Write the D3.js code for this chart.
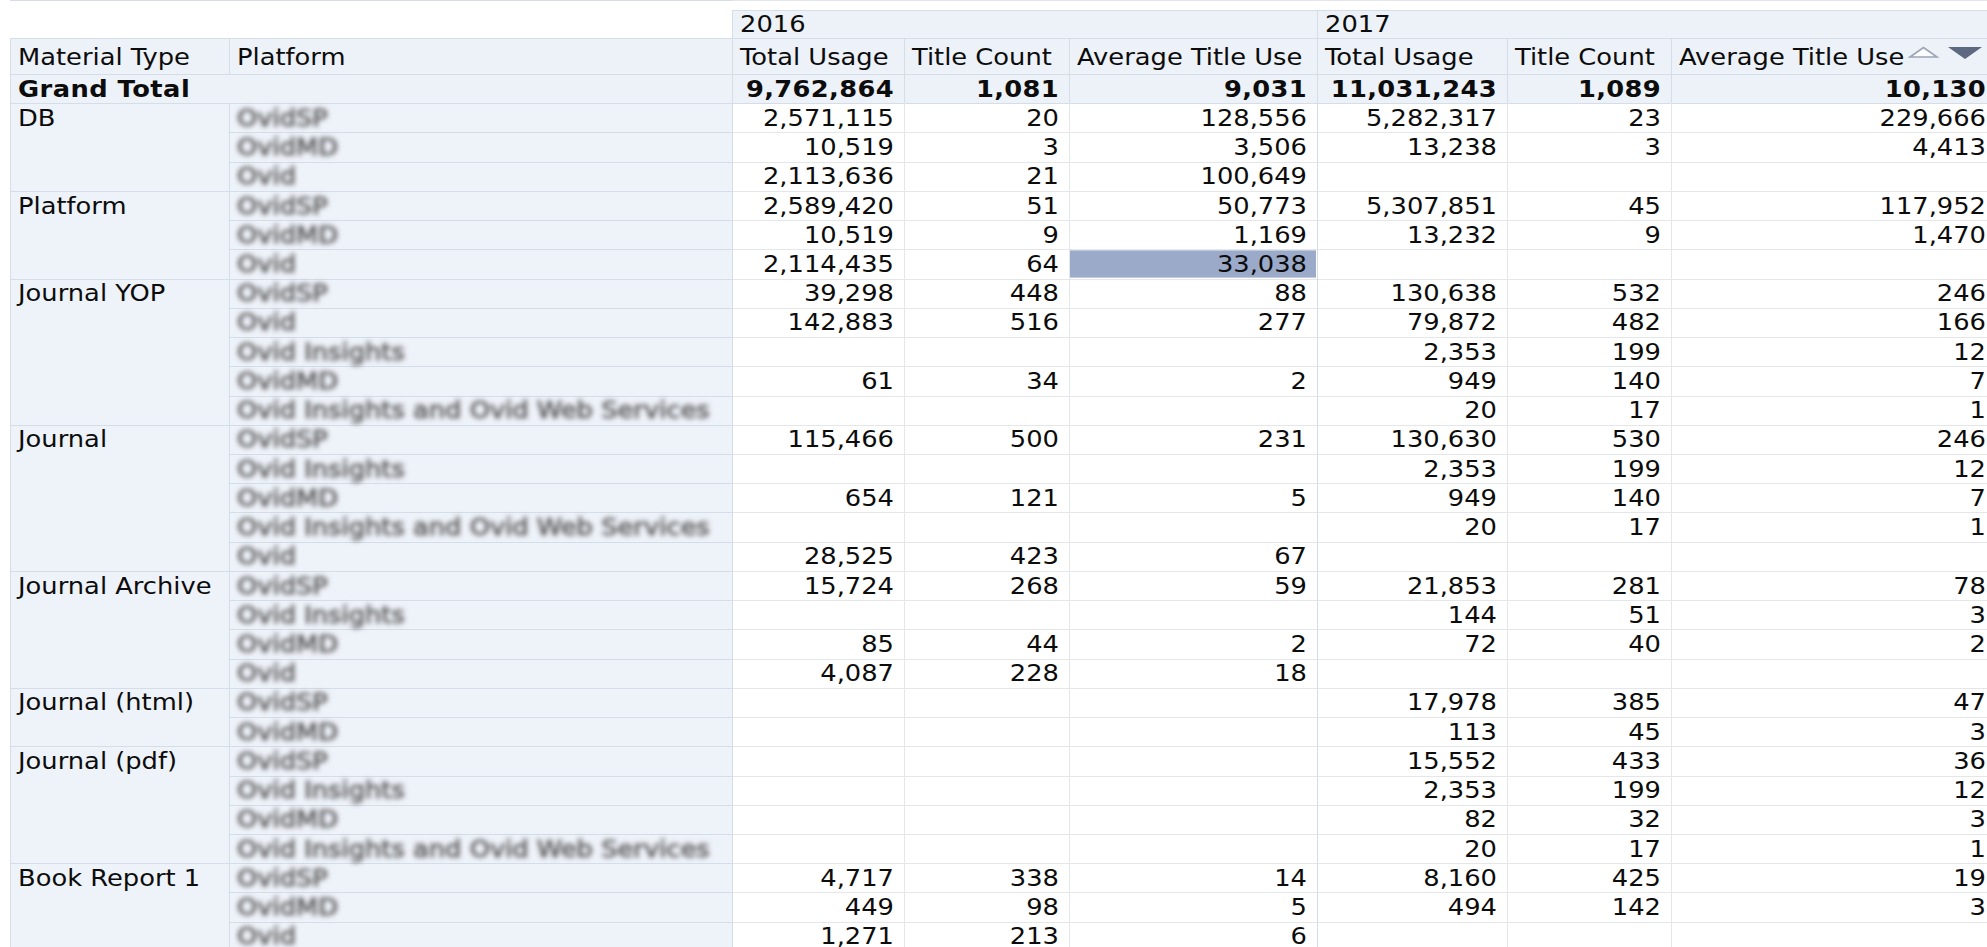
<!DOCTYPE html>
<html>
<head>
<meta charset="utf-8">
<script src="https://cdn.jsdelivr.net/npm/d3@7"></script>
<style>
    body { margin: 0; background: #fff; }
    svg { display: block; font-family: "DejaVu Sans", Verdana, sans-serif; }
</style>
</head>
<body>
<svg id="viz" width="1987" height="947"></svg>
<script>

const years = ["2016", "2017"]
const measures = ["Total Usage", "Title Count", "Average Title Use"]
const rowHeaders = ["Material Type", "Platform"]

const materialTypes = ["DB", "Platform", "Journal YOP", "Journal", "Journal Archive",
                       "Journal (html)", "Journal (pdf)", "Book Report 1"]
const groupSizes = [3, 3, 5, 5, 4, 2, 4, 3]

const platforms = [
    "OvidSP", "OvidMD", "Ovid",
    "OvidSP", "OvidMD", "Ovid",
    "OvidSP", "Ovid", "Ovid Insights", "OvidMD", "Ovid Insights and Ovid Web Services",
    "OvidSP", "Ovid Insights", "OvidMD", "Ovid Insights and Ovid Web Services", "Ovid",
    "OvidSP", "Ovid Insights", "OvidMD", "Ovid",
    "OvidSP", "OvidMD",
    "OvidSP", "Ovid Insights", "OvidMD", "Ovid Insights and Ovid Web Services",
    "OvidSP", "OvidMD", "Ovid"
]

const usage2016 = [2571115, 10519, 2113636, 2589420, 10519, 2114435, 39298, 142883, null, 61, null,
                   115466, null, 654, null, 28525, 15724, null, 85, 4087, null, null,
                   null, null, null, null, 4717, 449, 1271]
const titles2016 = [20, 3, 21, 51, 9, 64, 448, 516, null, 34, null,
                    500, null, 121, null, 423, 268, null, 44, 228, null, null,
                    null, null, null, null, 338, 98, 213]
const avg2016 = [128556, 3506, 100649, 50773, 1169, 33038, 88, 277, null, 2, null,
                 231, null, 5, null, 67, 59, null, 2, 18, null, null,
                 null, null, null, null, 14, 5, 6]
const usage2017 = [5282317, 13238, null, 5307851, 13232, null, 130638, 79872, 2353, 949, 20,
                   130630, 2353, 949, 20, null, 21853, 144, 72, null, 17978, 113,
                   15552, 2353, 82, 20, 8160, 494, null]
const titles2017 = [23, 3, null, 45, 9, null, 532, 482, 199, 140, 17,
                    530, 199, 140, 17, null, 281, 51, 40, null, 385, 45,
                    433, 199, 32, 17, 425, 142, null]
const avg2017 = [229666, 4413, null, 117952, 1470, null, 246, 166, 12, 7, 1,
                 246, 12, 7, 1, null, 78, 3, 2, null, 47, 3,
                 36, 12, 3, 1, 19, 3, null]

const grandTotal = [9762864, 1081, 9031, 11031243, 1089, 10130]

// selected cell (Platform / Ovid, 2016 Average Title Use)
const selectedCell = { row: 5, col: 2 }

// ---- layout ----
const viz = d3.select("#viz"),
    colEdges = [10, 229, 732, 904, 1069, 1317, 1507, 1671, 1996],
    yearTop = 10,
    headTop = 38,
    bodyTop = 74,
    rowH = 29.23,
    stretch = 1.12,
    fontSize = 23,
    hdrFill = "#edf1f8",
    rowHdrFill = "#eef2f9",
    hdrLine = "#d5dde9",
    gridLine = "#e4e6ea",
    textColor = "#0c0c0c"

const fmt = d3.format(",")

const series = [usage2016, titles2016, avg2016, usage2017, titles2017, avg2017]

// build rows from the arrays
var rows = []
materialTypes.forEach((m, g) => {
    for (let k = 0; k < groupSizes[g]; k++) {
        rows.push({
            type: m,
            first: k == 0,
            last: k == groupSizes[g] - 1,
            platform: platforms[rows.length],
            values: series.map(s => s[rows.length])
        })
    }
})

const y = d3.scaleBand()
    .domain(d3.range(rows.length + 1))
    .range([bodyTop, bodyTop + (rows.length + 1) * rowH])

const x = d3.scaleOrdinal()
    .domain(d3.range(colEdges.length))
    .range(colEdges)

const dataCol = i => i + 2   // data column i -> edge index

const defs = viz.append("defs")
defs.append("filter").attr("id", "blur")
    .attr("x", "-5%").attr("y", "-40%").attr("width", "110%").attr("height", "180%")
    .append("feGaussianBlur").attr("stdDeviation", 2.4)

// ---- backgrounds ----
const bg = viz.append("g").attr("id", "backgrounds")

bg.append("rect")
    .attr("x", x(2)).attr("y", yearTop)
    .attr("width", x(8) - x(2)).attr("height", headTop - yearTop)
    .attr("fill", hdrFill)

bg.append("rect")
    .attr("x", x(0)).attr("y", headTop)
    .attr("width", x(8) - x(0)).attr("height", bodyTop - headTop)
    .attr("fill", hdrFill)

bg.append("rect")
    .attr("x", x(0)).attr("y", y(0))
    .attr("width", x(8) - x(0)).attr("height", y.bandwidth())
    .attr("fill", hdrFill)

bg.append("rect")
    .attr("x", x(0)).attr("y", y(1))
    .attr("width", x(2) - x(0)).attr("height", 947 - y(1))
    .attr("fill", rowHdrFill)

bg.append("rect")
    .attr("x", x(dataCol(selectedCell.col)) + 1)
    .attr("y", y(selectedCell.row + 1) + 1)
    .attr("width", x(dataCol(selectedCell.col) + 1) - x(dataCol(selectedCell.col)) - 2)
    .attr("height", y.bandwidth() - 2)
    .attr("fill", "#9aaac8")

// ---- grid lines ----
const lines = viz.append("g").attr("id", "grid").attr("shape-rendering", "crispEdges")

function hline(x1, x2, yy, color) {
    lines.append("line")
        .attr("x1", x1).attr("x2", x2)
        .attr("y1", Math.round(yy) + 0.5).attr("y2", Math.round(yy) + 0.5)
        .attr("stroke", color).attr("stroke-width", 1.5)
}
function vline(xx, y1, y2, color) {
    lines.append("line")
        .attr("x1", xx + 0.5).attr("x2", xx + 0.5)
        .attr("y1", y1).attr("y2", y2)
        .attr("stroke", color).attr("stroke-width", 1.5)
}

// data row separators
rows.forEach((r, i) => {
    let yy = y(i + 2)
    hline(x(2), x(8), yy, gridLine)
    hline(x(1), x(2), yy, hdrLine)
    if (r.last) hline(x(0), x(1), yy, hdrLine)
})

// header separators
hline(x(2), x(8), yearTop, hdrLine)
hline(x(0), x(8), headTop, hdrLine)
hline(x(0), x(8), bodyTop, hdrLine)
hline(x(0), x(8), y(1), hdrLine)

// vertical separators
vline(x(0), headTop, 947, hdrLine)
vline(x(1), headTop, bodyTop, hdrLine)
vline(x(1), y(1), 947, hdrLine)
vline(x(2), yearTop, 947, hdrLine)
vline(x(5), yearTop, 947, hdrLine)
;[3, 4, 6, 7].forEach(c => vline(x(c), headTop, y(1), hdrLine))
;[3, 4, 6, 7].forEach(c => vline(x(c), y(1), 947, gridLine))

// ---- text ----
const labels = viz.append("g").attr("id", "labels")
    .attr("font-size", fontSize).attr("fill", textColor)

function txt(xx, yy, s, anchor) {
    return labels.append("text")
        .attr("transform", `translate(${xx},${yy}) scale(${stretch},1)`)
        .attr("text-anchor", anchor || "start")
        .text(s)
}

// year row
years.forEach((yr, i) => txt(x(2 + i * 3) + 8, yearTop + 22, yr))

// measure header row
rowHeaders.forEach((h, i) => txt(x(i) + 8, headTop + 27, h))
years.forEach((yr, yi) => {
    measures.forEach((m, mi) => txt(x(2 + yi * 3 + mi) + 8, headTop + 27, m))
})

// sort arrows on the last header
const sortIcons = viz.append("g").attr("id", "sort")
const tri = d3.line()
sortIcons.append("path")
    .attr("d", tri([[1910, 57], [1923.5, 47.5], [1937, 57]]) + "Z")
    .attr("fill", "#fbfcfe").attr("stroke", "#9ba5b6").attr("stroke-width", 1.6)
sortIcons.append("path")
    .attr("d", tri([[1948, 47], [1982, 47], [1965, 59]]) + "Z")
    .attr("fill", "#5c6980")

// grand total
const gtY = y(0) + y.bandwidth() / 2 + 8
txt(x(0) + 8, gtY, "Grand Total").attr("font-weight", "bold").attr("letter-spacing", 0.4)
grandTotal.forEach((v, i) => {
    txt(x(dataCol(i) + 1) - 10, gtY, fmt(v), "end").attr("font-weight", "bold").attr("letter-spacing", 0.3)
})

// body
rows.forEach((r, i) => {
    let yy = y(i + 1) + y.bandwidth() / 2 + 8
    if (r.first) txt(x(0) + 8, yy, r.type)
    txt(x(1) + 8, yy, r.platform)
        .attr("fill", "#5e5e5e")
        .attr("stroke", "#5e5e5e").attr("stroke-width", 0.8)
        .attr("filter", "url(#blur)")
    r.values.forEach((v, c) => {
        if (v !== null) txt(x(dataCol(c) + 1) - 10, yy, fmt(v), "end")
    })
})

</script>
</body>
</html>
